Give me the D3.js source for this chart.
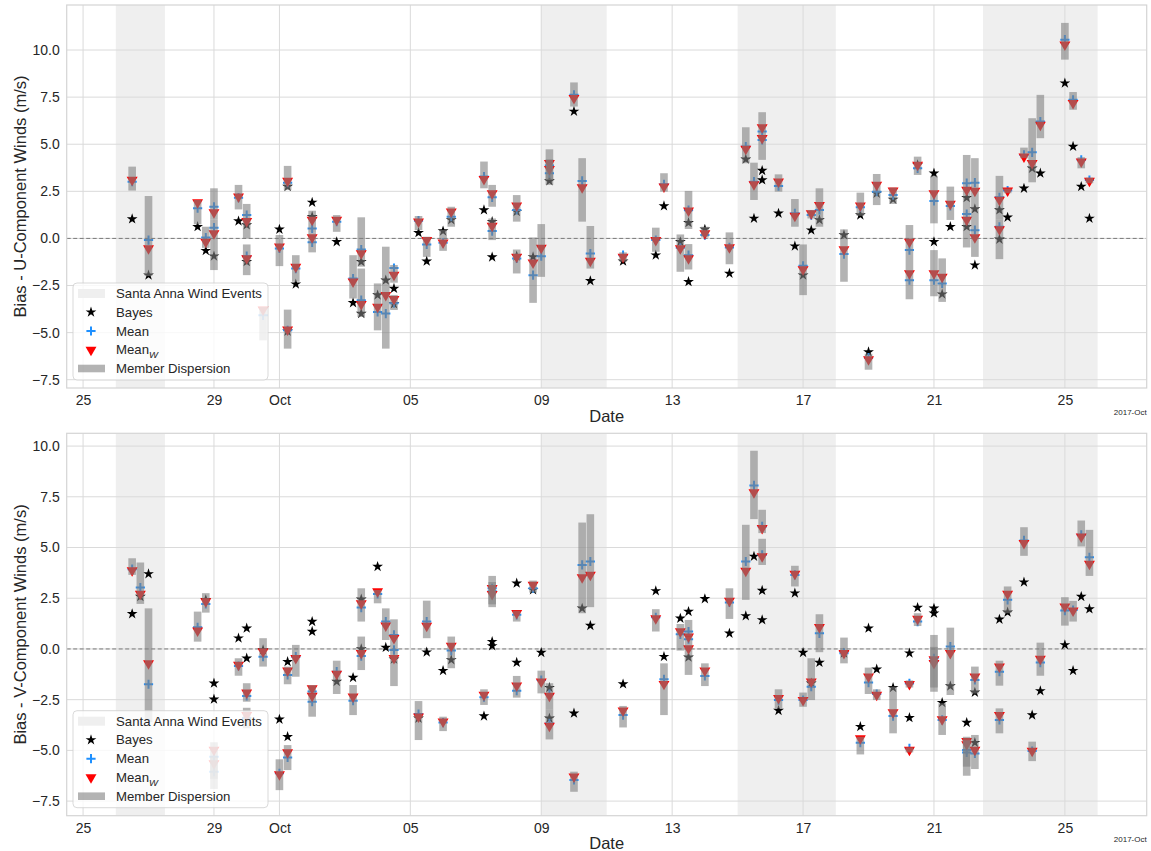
<!DOCTYPE html>
<html><head><meta charset="utf-8">
<script src="https://cdn.jsdelivr.net/npm/d3@7"></script>
<style>body{margin:0;background:#fff}svg{display:block;font-family:"Liberation Sans",Arial,sans-serif}</style>
</head><body><svg id="c" width="1151" height="851"></svg>
<script>
// ---------- data ----------
const eventStarts = ["09-26T00","10-09T00","10-15T00","10-22T12"];
const eventEnds   = ["09-27T12","10-11T00","10-18T00","10-26T00"];
const xTickDates  = ["09-25T00","09-29T00","10-01T00","10-05T00","10-09T00","10-13T00","10-17T00","10-21T00","10-25T00"];
const xTickLabels = ["25","29","Oct","05","09","13","17","21","25"];
const yTicks = [-7.5,-5,-2.5,0,2.5,5,7.5,10];
const legendLabels = ["Santa Anna Wind Events","Bayes","Mean","Mean","Member Dispersion"];

// U component
const uTimes = ["09-26T12","09-27T00","09-28T12","09-28T18","09-29T00","09-29T00","09-29T18","09-30T00","09-30T00","09-30T12",
"10-01T00","10-01T06","10-01T06","10-01T12","10-02T00","10-02T00","10-02T18","10-03T06","10-03T12","10-03T12",
"10-04T00","10-04T06","10-04T12","10-04T12","10-05T06","10-05T12","10-06T00","10-06T06","10-07T06","10-07T12",
"10-07T12","10-08T06","10-08T06","10-08T18","10-09T00","10-09T06","10-09T06","10-10T00","10-10T06","10-10T12",
"10-11T12","10-12T12","10-12T18","10-13T06","10-13T12","10-13T12","10-14T00","10-14T18","10-15T06","10-15T12",
"10-15T18","10-15T18","10-16T06","10-16T18","10-17T00","10-17T06","10-17T12","10-18T06","10-18T18","10-19T00",
"10-19T06","10-19T18","10-20T06","10-20T06","10-20T12","10-21T00","10-21T00","10-21T06","10-21T12","10-22T00",
"10-22T00","10-22T06","10-22T06","10-23T00","10-23T00","10-23T06","10-23T18","10-24T00","10-24T06","10-25T00",
"10-25T06","10-25T12","10-25T18"];
const uLow = [2.54,-2.0,0.75,-0.5,1.0,-1.68,1.54,0.0,-1.95,-5.41,
 -1.47,2.57,-5.85,-2.3,0.3,-0.74,0.35,-3.19,-1.5,-4.17,
 -4.88,-5.85,-2.35,-3.8,0.44,-0.98,-0.66,0.62,2.66,1.68,
 -0.09,0.89,-1.86,-3.42,-2.04,2.84,3.1,7.0,0.89,-1.6,
 -1.24,-0.71,2.48,-1.77,0.5,-1.65,0.05,-1.37,3.99,2.04,
 5.45,4.17,2.48,0.62,-3.01,1.06,0.62,-2.3,1.2,-6.97,
 1.77,1.83,-1.2,-3.23,3.37,0.8,-3.07,-3.37,0.98,1.5,
 -0.48,1.5,-0.98,1.0,-1.1,2.4,4.26,2.98,5.32,9.49,
 6.83,3.72,2.93];
const uHigh = [3.81,2.25,2.04,0.62,2.66,1.0,2.84,1.83,-0.32,-3.63,
 0.18,3.85,-3.78,-0.89,1.47,0.3,1.24,-0.89,1.12,-1.6,
 -2.39,-0.44,-1.41,-3.0,1.19,0.09,0.45,1.68,4.08,2.84,
 1.06,2.3,-0.59,0.05,0.76,4.73,4.2,8.28,4.26,0.66,
 -0.74,0.57,3.46,0.21,2.52,-0.3,0.62,0.32,5.9,4.02,
 6.7,5.45,3.4,2.09,-0.32,1.51,2.66,0.48,2.43,-6.12,
 3.42,2.7,0.71,-1.2,4.34,3.32,-0.62,-1.06,2.75,4.43,
 1.5,4.26,1.5,3.32,1.0,2.65,4.82,6.38,7.62,11.44,
 7.77,4.31,3.23];
const uMean = [3.01,-0.09,1.6,0.05,1.68,0.57,2.16,1.24,-0.94,-4.08,
 -0.53,2.96,-4.88,-1.6,0.53,-0.21,0.89,-2.13,-0.59,-3.28,
 -3.9,-3.99,-1.57,-3.44,0.94,-0.32,-0.23,1.15,3.28,2.18,
 0.39,1.51,-1.06,-1.95,-0.94,3.87,3.46,7.62,3.05,-0.8,
 -0.89,-0.09,2.87,-0.5,1.5,-0.89,0.18,-0.48,4.88,3.01,
 5.67,5.23,2.78,1.33,-1.45,1.24,1.51,-0.83,1.65,-6.33,
 2.48,2.3,-0.62,-2.22,3.72,1.99,-2.22,-2.39,1.72,2.93,
 1.29,2.96,0.44,2.18,0.62,2.54,4.43,4.57,6.2,10.55,
 7.36,4.17,3.1];
const uMeanW = [3.10,-0.53,1.91,-0.18,1.38,0.27,2.22,0.92,-1.06,-3.78,
 -0.44,3.05,-4.84,-1.51,0.98,0.05,0.98,-2.3,-0.8,-3.49,
 -3.63,-3.01,-1.94,-3.23,0.89,-0.09,-0.23,1.42,3.14,2.39,
 0.66,1.74,-0.98,-1.29,-0.5,3.99,3.67,7.45,2.71,-1.19,
 -0.98,-0.09,2.75,-0.53,1.47,-1.06,0.27,-0.48,4.75,2.87,
 5.89,5.32,3.01,1.19,-1.65,1.33,1.77,-0.59,1.74,-6.42,
 2.84,2.54,-0.18,-1.86,3.9,2.39,-1.86,-2.04,1.83,2.57,
 0.98,2.52,0.05,2.04,0.48,2.54,4.34,3.99,6.03,10.28,
 7.18,4.08,3.05];
const uBayes = [1.03,-1.95,0.62,-0.65,null,-0.94,0.92,0.71,-1.24,null,
 0.48,2.75,-4.93,-2.43,1.15,1.91,-0.18,-3.42,-1.24,-3.99,
 -3.01,-2.22,-2.66,-3.48,0.3,-1.21,0.39,0.98,1.51,-0.99,
 0.89,1.42,-0.94,-0.98,null,3.05,null,6.74,null,-2.25,
 -1.21,-0.89,1.72,-0.18,0.83,-2.3,0.48,-1.86,4.2,1.06,
 3.6,3.1,1.33,-0.41,-1.95,0.44,0.98,0.18,1.24,-6.03,
 2.39,2.07,null,null,3.9,3.46,-0.18,-2.96,0.62,2.16,
 0.62,1.56,-1.42,1.51,-0.05,1.12,2.66,3.72,3.46,8.24,
 4.88,2.75,1.06];

// V component
const vTimes = ["09-26T12","09-26T18","09-27T00","09-28T12","09-28T18","09-29T00","09-29T00","09-29T18","09-30T00","09-30T00",
"09-30T12","10-01T00","10-01T06","10-01T06","10-01T12","10-02T00","10-02T00","10-02T18","10-03T06","10-03T12",
"10-03T12","10-04T00","10-04T06","10-04T12","10-04T12","10-05T06","10-05T12","10-06T00","10-06T06","10-07T06",
"10-07T12","10-07T12","10-08T06","10-08T06","10-08T18","10-09T00","10-09T06","10-09T06","10-10T00","10-10T06",
"10-10T12","10-11T12","10-12T12","10-12T18","10-13T06","10-13T12","10-13T12","10-14T00","10-14T18","10-15T06",
"10-15T12","10-15T18","10-15T18","10-16T06","10-16T18","10-17T00","10-17T06","10-17T12","10-18T06","10-18T18",
"10-19T00","10-19T06","10-19T18","10-20T06","10-20T06","10-20T12","10-21T00","10-21T00","10-21T06","10-21T12",
"10-22T00","10-22T00","10-22T06","10-22T06","10-23T00","10-23T00","10-23T06","10-23T18","10-24T00","10-24T06",
"10-25T00","10-25T06","10-25T12","10-25T18"];
const vLow = [3.65,2.22,-3.6,0.36,1.79,-6.4,-6.9,-1.32,-2.6,-3.91,
 -0.87,-6.96,-1.74,-5.97,-1.37,-2.2,-3.34,-2.22,-3.26,1.35,
 -1.04,2.25,0.44,0.1,-1.83,-4.49,0.53,-4.05,-0.95,-2.76,
 2.06,2.2,1.35,-2.4,2.78,-2.19,-3.0,-4.46,-7.04,1.76,
 2.06,-3.87,0.86,-3.26,-0.08,0.6,-1.28,-1.83,1.48,2.42,
 6.4,5.71,4.14,-2.93,3.08,-2.85,-2.52,-0.16,-0.71,-5.2,
 -2.22,-2.52,-4.16,-1.9,-5.1,1.13,-2.11,-1.9,-4.24,-2.27,
 -6.25,-5.8,-2.2,-5.92,-1.81,-4.16,1.76,4.59,-5.53,-1.32,
 1.15,1.35,5.05,3.6];
const vHigh = [4.47,4.26,2.0,1.84,2.75,-4.6,-5.3,-0.46,-1.69,-2.9,
 0.53,-5.44,-0.87,-4.74,0.2,-1.78,-2.2,-0.58,-1.78,2.99,
 0.61,2.91,2.0,1.46,0.1,-2.57,2.38,-3.34,0.61,-1.99,
 3.6,3.3,1.89,-1.33,3.37,-1.07,-1.69,-3.0,-6.05,6.23,
 6.64,-2.81,1.96,-0.71,1.23,1.43,0.6,-0.71,2.99,6.12,
 9.77,6.86,5.43,-1.99,4.1,-2.15,-0.46,1.71,0.56,-4.33,
 -0.92,-1.99,-1.86,-1.55,-4.85,1.76,0.69,0.1,-2.68,1.05,
 -4.33,-4.5,-0.87,-4.24,-0.58,-2.93,3.08,6.0,-4.57,0.31,
 2.55,2.37,6.33,5.87];
const vMean = [3.93,3.03,-1.74,1.07,2.22,-5.31,-6.05,-0.84,-2.32,-3.4,
 -0.38,-6.13,-1.28,-5.35,-0.38,-2.1,-2.6,-1.12,-2.55,2.04,
 -0.35,2.71,1.35,0.69,-0.05,-3.21,1.35,-3.63,-0.08,-2.38,
 2.99,2.85,1.68,-2.06,2.99,-1.53,-2.22,-3.67,-6.46,4.14,
 4.31,-3.26,1.56,-1.5,0.72,0.86,0.48,-1.33,2.29,4.31,
 8.06,6.04,4.64,-2.52,3.65,-2.52,-1.86,0.77,-0.21,-4.62,
 -1.66,-2.22,-3.31,-1.7,-4.9,1.35,-0.46,-0.6,-3.5,0.12,
 -4.98,-5.1,-1.53,-5.15,-1.12,-3.5,2.42,5.35,-5.03,-0.67,
 1.89,1.92,5.63,4.52];
const vMeanW = [3.87,2.71,-0.71,0.9,2.34,-4.98,-5.64,-0.79,-2.15,-3.26,
 -0.13,-6.18,-1.07,-5.1,-0.46,-1.94,-2.32,-1.23,-2.35,2.25,
 -0.21,2.83,1.15,0.53,-0.46,-3.34,1.13,-3.59,0.15,-2.27,
 3.0,2.7,1.76,-1.81,3.16,-1.61,-2.32,-3.8,-6.3,3.52,
 3.65,-3.04,1.51,-1.73,0.86,0.61,0.03,-1.07,2.37,3.85,
 7.71,5.95,4.56,-2.43,3.7,-2.52,-1.61,1.07,-0.21,-4.41,
 -1.37,-2.27,-3.13,-1.74,-4.98,1.48,-0.51,-0.7,-3.47,-0.21,
 -4.54,-4.7,-1.37,-4.98,-0.87,-3.26,2.71,5.21,-5.03,-0.49,
 2.09,1.89,5.54,4.19];
const vBayes = [1.73,2.58,3.70,null,2.42,-1.69,-2.48,0.53,1.02,-0.46,
 -0.05,-3.47,-0.63,-4.33,null,1.35,0.86,-1.61,-1.41,2.45,
 0.0,4.06,0.07,null,-0.51,-3.42,-0.16,-1.07,-0.54,-3.31,
 0.36,0.15,3.24,-0.67,2.91,-0.18,-1.91,-3.42,-3.17,2.0,
 1.15,-1.73,2.86,-0.38,1.51,1.84,-0.41,2.47,0.77,1.63,
 4.56,2.88,1.43,-3.04,2.75,-0.18,-1.69,-0.67,-0.21,-3.83,
 1.02,-1.0,-1.91,-0.21,-3.39,2.04,2.0,1.76,-2.65,-1.83,
 -3.63,null,-2.14,-4.62,1.46,null,1.81,3.29,-3.26,-2.07,
 0.2,-1.07,2.58,1.97];

// ---------- drawing ----------
const parseT = s => d3.utcParse("%Y-%m-%dT%H")("2017-" + s);
const svg = d3.select("#c");
const X0 = 66.7, X1 = 1146.7;
const x = d3.scaleUtc().domain([parseT("09-24T12"), parseT("10-27T12")]).range([X0, X1]);
const txt = "#262626", gridC = "#dadada";
const starSym = d3.symbol(d3.symbolStar, 36)();
const triSym = d3.symbol(d3.symbolTriangle, 52)();
const plusPath = "M-4.6,0H4.6M0,-4.6V4.6";

function panel(cfg, idx) {
  const y = d3.scaleLinear().domain(cfg.domain).range([cfg.bottom, cfg.top]);
  const g = svg.append("g");
  const clipId = "clip" + idx;
  svg.append("clipPath").attr("id", clipId).append("rect")
    .attr("x", X0).attr("y", cfg.top).attr("width", X1 - X0).attr("height", cfg.bottom - cfg.top);
  const pa = g.append("g").attr("clip-path", `url(#${clipId})`);

  // events shading
  pa.selectAll("rect.ev").data(eventStarts.map((s, i) => [parseT(s), parseT(eventEnds[i])]))
    .join("rect").attr("x", d => x(d[0])).attr("width", d => x(d[1]) - x(d[0]))
    .attr("y", cfg.top).attr("height", cfg.bottom - cfg.top).attr("fill", "#efefef");

  // grid
  pa.selectAll("line.hg").data(yTicks).join("line")
    .attr("x1", X0).attr("x2", X1).attr("y1", d => y(d)).attr("y2", d => y(d))
    .attr("stroke", gridC).attr("stroke-width", 1);
  pa.selectAll("line.vg").data(xTickDates.map(parseT)).join("line")
    .attr("y1", cfg.top).attr("y2", cfg.bottom).attr("x1", d => x(d)).attr("x2", d => x(d))
    .attr("stroke", gridC).attr("stroke-width", 1);
  // zero line
  pa.append("line").attr("x1", X0).attr("x2", X1).attr("y1", y(0)).attr("y2", y(0))
    .attr("stroke", "#7a7a7a").attr("stroke-width", 1).attr("stroke-dasharray", "4,2.5");

  const rows = cfg.times.map((t, i) => ({ t: parseT(t), lo: cfg.low[i], hi: cfg.high[i],
    mean: cfg.mean[i], mw: cfg.meanW[i], b: cfg.bayes[i] }));

  pa.selectAll("path.star").data(rows.filter(d => d.b != null)).join("path")
    .attr("d", starSym).attr("fill", "#000")
    .attr("transform", d => `translate(${x(d.t)},${y(d.b)})`);
  pa.selectAll("path.plus").data(rows.filter(d => d.mean != null)).join("path")
    .attr("d", plusPath).attr("stroke", "#1e90ff").attr("stroke-width", 2).attr("fill", "none")
    .attr("transform", d => `translate(${x(d.t)},${y(d.mean)})`);
  pa.selectAll("path.tri").data(rows.filter(d => d.mw != null)).join("path")
    .attr("d", triSym).attr("fill", "#ff0000")
    .attr("transform", d => `translate(${x(d.t)},${y(d.mw)}) rotate(180)`);
  pa.selectAll("rect.bar").data(rows.filter(d => d.lo != null)).join("rect")
    .attr("x", d => x(d.t) - 3.8).attr("width", 7.6)
    .attr("y", d => y(d.hi)).attr("height", d => y(d.lo) - y(d.hi))
    .attr("fill", "#808080").attr("fill-opacity", 0.6);

  // frame
  g.append("rect").attr("x", X0).attr("y", cfg.top).attr("width", X1 - X0).attr("height", cfg.bottom - cfg.top)
    .attr("fill", "none").attr("stroke", "#d4d4d4").attr("stroke-width", 1.2);

  // axes
  const ax = g.append("g").attr("transform", `translate(0,${cfg.bottom})`)
    .call(d3.axisBottom(x).tickValues(xTickDates.map(parseT)).tickSize(0).tickPadding(7)
      .tickFormat((d, i) => xTickLabels[i]));
  ax.select(".domain").remove();
  ax.selectAll("text").attr("font-size", 14).attr("fill", txt).attr("font-family", "Liberation Sans, Arial, sans-serif");
  const ay = g.append("g").attr("transform", `translate(${X0},0)`)
    .call(d3.axisLeft(y).tickValues(yTicks).tickSize(0).tickPadding(7).tickFormat(d3.format(".1f")));
  ay.select(".domain").remove();
  ay.selectAll("text").attr("font-size", 14).attr("fill", txt).attr("font-family", "Liberation Sans, Arial, sans-serif");

  g.append("text").attr("x", (X0 + X1) / 2).attr("y", cfg.bottom + 33.5).attr("text-anchor", "middle")
    .attr("font-size", 16.5).attr("fill", txt).text("Date");
  g.append("text").attr("transform", `translate(25.5,${(cfg.top + cfg.bottom) / 2}) rotate(-90)`)
    .attr("text-anchor", "middle").attr("font-size", 16.5).attr("fill", txt).text(cfg.ylabel);
  g.append("text").attr("x", X1).attr("y", cfg.bottom + 26.5).attr("text-anchor", "end")
    .attr("font-size", 8).attr("fill", txt).text("2017-Oct");

  // legend
  const lg = g.append("g").attr("transform", `translate(73,${cfg.bottom - 105})`);
  lg.append("rect").attr("width", 195).attr("height", 97).attr("rx", 4)
    .attr("fill", "#fff").attr("fill-opacity", 0.8).attr("stroke", "#d0d0d0").attr("stroke-opacity", 0.8);
  const rowsY = [10.5, 29.2, 48, 66.8, 85.5];
  lg.append("rect").attr("x", 5).attr("width", 27).attr("y", rowsY[0] - 4.5).attr("height", 9).attr("fill", "#efefef");
  lg.append("path").attr("d", starSym).attr("fill", "#000").attr("transform", `translate(18,${rowsY[1]})`);
  lg.append("path").attr("d", plusPath).attr("stroke", "#1e90ff").attr("stroke-width", 2).attr("fill", "none")
    .attr("transform", `translate(18,${rowsY[2]})`);
  lg.append("path").attr("d", triSym).attr("fill", "#ff0000").attr("transform", `translate(18,${rowsY[3]}) rotate(180)`);
  lg.append("line").attr("x1", 5).attr("x2", 32).attr("y1", rowsY[4]).attr("y2", rowsY[4])
    .attr("stroke", "#808080").attr("stroke-opacity", 0.6).attr("stroke-width", 7.6);
  legendLabels.forEach((lab, i) => {
    const t = lg.append("text").attr("x", 43).attr("y", rowsY[i] + 4.6).attr("font-size", 13.2).attr("fill", txt).text(lab);
    if (i === 3) t.append("tspan").attr("font-size", 9.5).attr("font-style", "italic").attr("dy", 3.5).text("W");
  });
}

panel({ top: 5, bottom: 388, domain: [-7.94, 12.39], ylabel: "Bias - U-Component Winds (m/s)",
  times: uTimes, low: uLow, high: uHigh, mean: uMean, meanW: uMeanW, bayes: uBayes }, 0);
panel({ top: 433.3, bottom: 815.7, domain: [-8.22, 10.63], ylabel: "Bias - V-Component Winds (m/s)",
  times: vTimes, low: vLow, high: vHigh, mean: vMean, meanW: vMeanW, bayes: vBayes }, 1);
</script>
</body></html>
